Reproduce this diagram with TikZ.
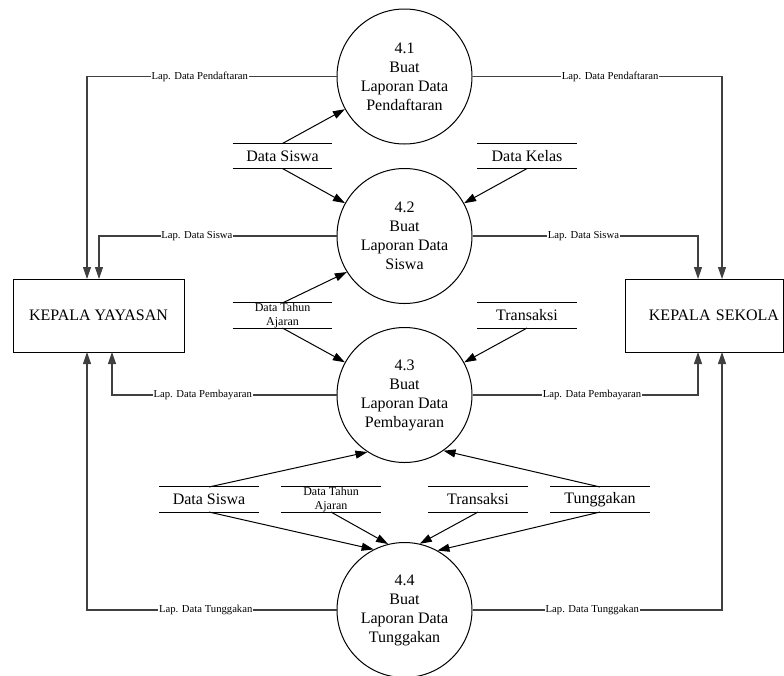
\documentclass[tikz,border=0pt]{standalone}
\usepackage{fontspec}
\setmainfont{Liberation Serif}
\usetikzlibrary{shapes,arrows.meta}

\tikzset{
  >={Triangle[length=9pt,width=6pt]},
  process/.style={draw,circle,minimum size=101.25pt,inner sep=0pt,align=center,line width=0.75pt,font=\fontsize{12}{14.25}\selectfont},
  entity/.style={draw,rectangle,minimum width=128.25pt,minimum height=54.75pt,line width=0.75pt,font=\fontsize{12}{14}\selectfont},
  store/.style={minimum width=74.25pt,minimum height=18.4pt,inner sep=0pt,font=\fontsize{12}{14}\selectfont},
  storeline/.style={line width=0.75pt},
  flow/.style={draw,->,line width=0.75pt},
  report/.style={draw=black!75,->,line width=0.8pt},
  replabel/.style={fill=white,inner sep=0.5pt,font=\fontsize{8}{9}\selectfont},
  yeartext/.style={align=center,inner sep=0pt,font=\fontsize{9}{10.5}\selectfont}
}

\begin{document}
\begin{tikzpicture}[x=0.75pt,y=-0.75pt]
\useasboundingbox (0,0) rectangle (784,675);

% processes
\node[process] (p41) at (404.5,76.5) {4.1\\Buat\\Laporan Data\\Pendaftaran};
\node[process] (p42) at (404.5,236) {4.2\\Buat\\Laporan Data\\Siswa};
\node[process] (p43) at (404.5,395) {4.3\\Buat\\Laporan Data\\Pembayaran};
\node[process] (p44) at (404.5,610) {4.4\\Buat\\Laporan Data\\Tunggakan};

% external entities
\node[entity] (kepyay) at (98.5,315.5) {KEPALA YAYASAN};
\node[entity,minimum width=118.5pt,inner xsep=3pt,text width=112.5pt,align=right] (kepsek) at (704,315.5) {KEPALA SEKOLA};

% data stores
\node[store] (siswa1) at (282.5,156) {Data Siswa};
\node[store] (kelas) at (527,156) {Data Kelas};
\node[store,label={[yeartext]center:Data Tahun\\Ajaran}] (tahun1) at (282.5,315.5) {};
\node[store] (trans1) at (527,315.5) {Transaksi};
\node[store] (siswa2) at (209,499.5) {Data Siswa};
\node[store,label={[yeartext]center:Data Tahun\\Ajaran}] (tahun2) at (331,499.5) {};
\node[store] (trans2) at (478,499.5) {Transaksi};
\node[store] (tunggak) at (600,499.5) {Tunggakan};

\draw[storeline] (siswa1.north west) -- (siswa1.north east) (siswa1.south west) -- (siswa1.south east);
\draw[storeline] (kelas.north west) -- (kelas.north east) (kelas.south west) -- (kelas.south east);
\draw[storeline] (tahun1.north west) -- (tahun1.north east) (tahun1.south west) -- (tahun1.south east);
\draw[storeline] (trans1.north west) -- (trans1.north east) (trans1.south west) -- (trans1.south east);
\draw[storeline] (siswa2.north west) -- (siswa2.north east) (siswa2.south west) -- (siswa2.south east);
\draw[storeline] (tahun2.north west) -- (tahun2.north east) (tahun2.south west) -- (tahun2.south east);
\draw[storeline] (trans2.north west) -- (trans2.north east) (trans2.south west) -- (trans2.south east);
\draw[storeline] (tunggak.north west) -- (tunggak.north east) (tunggak.south west) -- (tunggak.south east);

% corners at the entities
\coordinate (yayA) at (87,279);
\coordinate (yayB) at (99,279);
\coordinate (yayC) at (112,352);
\coordinate (yayD) at (87,352);
\coordinate (sekA) at (722,279);
\coordinate (sekB) at (698,279);
\coordinate (sekC) at (698,352);
\coordinate (sekD) at (722,352);

% data flows from the stores
\path[flow] (siswa1.north) -- (p41);
\path[flow] (siswa1.south) -- (p42);
\path[flow] (kelas.south) -- (p42);
\path[flow] (tahun1.north) -- (p42.212);
\path[flow] (tahun1.south) -- (p43);
\path[flow] (trans1.south) -- (p43);
\path[flow] (siswa2.north) -- (p43.237);
\path[flow] (tunggak.north) -- (p43.305);
\path[flow] (siswa2.south) -- (p44.117);
\path[flow] (tahun2.south) -- (p44.104);
\path[flow] (trans2.south) -- (p44.77);
\path[flow] (tunggak.south) -- (p44.61);

% reports
\path[report] (p41.west) -| node[replabel,pos=0.274] {Lap. Data Pendaftaran} (yayA);
\path[report] (p41.east) -| node[replabel,pos=0.276] {Lap. Data Pendaftaran} (sekA);
\path[report] (p42.west) -| node[replabel,pos=0.294] {Lap. Data Siswa} (yayB);
\path[report] (p42.east) -| node[replabel,pos=0.246] {Lap. Data Siswa} (sekB);
\path[report] (p43.west) -| node[replabel,pos=0.298] {Lap. Data Pembayaran} (yayC);
\path[report] (p43.east) -| node[replabel,pos=0.265] {Lap. Data Pembayaran} (sekC);
\path[report] (p44.west) -| node[replabel,pos=0.262] {Lap. Data Tunggakan} (yayD);
\path[report] (p44.east) -| node[replabel,pos=0.24] {Lap. Data Tunggakan} (sekD);

\end{tikzpicture}
\end{document}
